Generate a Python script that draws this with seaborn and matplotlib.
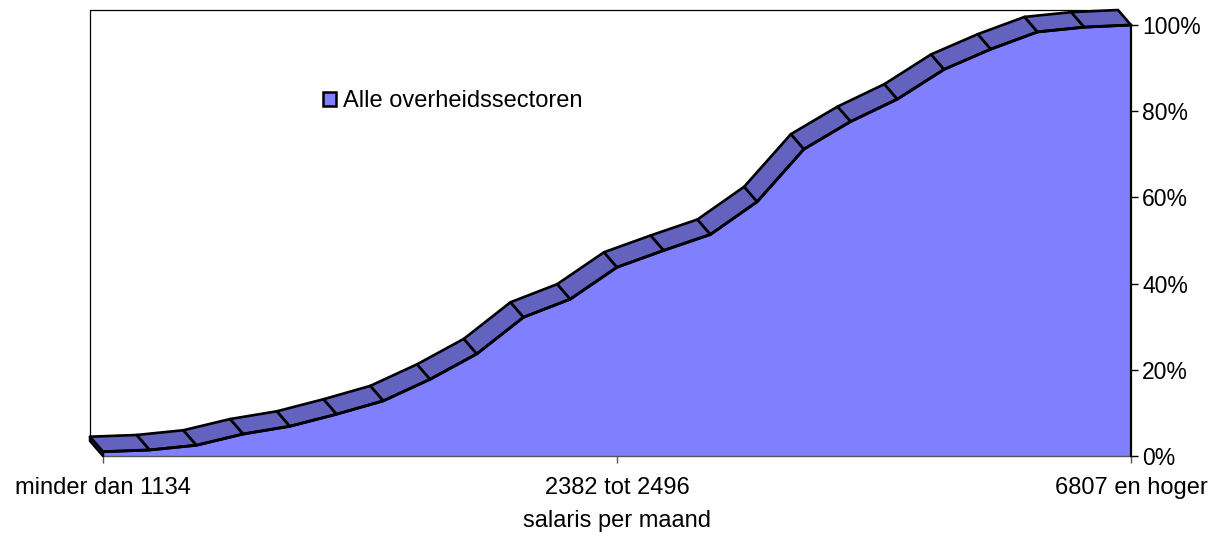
import numpy as np
import pandas as pd
import seaborn as sns
import matplotlib.pyplot as plt
from matplotlib.patches import Patch, Polygon
from matplotlib.ticker import PercentFormatter

# cumulative share of employees per salary class (23 classes)
classes = list(range(23))
cum_share = [1.0, 1.4, 2.5, 5.1, 6.9, 9.7, 12.8, 17.8, 23.7, 32.2, 36.4, 43.8,
             47.7, 51.4, 59.0, 71.2, 77.6, 82.8, 89.7, 94.4, 98.4, 99.5, 100.0]
tick_pos = [0, 11, 22]
tick_labels = ['minder dan 1134', '2382 tot 2496', '6807 en hoger']
series_name = 'Alle overheidssectoren'

FRONT = '#8080FF'
TOP = '#6363BF'


def main():
    sns.set_style('white')
    plt.rcParams['font.family'] = ['Liberation Sans', 'DejaVu Sans']
    plt.rcParams['text.color'] = 'black'
    plt.rcParams['xtick.color'] = 'black'
    plt.rcParams['ytick.color'] = 'black'
    plt.rcParams['axes.labelcolor'] = 'black'
    fs = 17

    df = pd.DataFrame({'klasse': classes, 'aandeel': cum_share})

    fig = plt.figure(figsize=(12.09, 5.36), dpi=100)
    ax = fig.add_axes([103 / 1209, 80 / 536, 1028 / 1209, 431 / 536])
    ax.set_xlim(0, 22)
    ax.set_ylim(0, 100)

    # depth offset of the 3D look, pixels -> data units
    wpx = ax.get_position().width * fig.get_figwidth() * fig.dpi
    hpx = ax.get_position().height * fig.get_figheight() * fig.dpi
    dx = -13 * 22 / wpx
    dy = 15 * 100 / hpx

    x = df['klasse'].to_numpy(dtype=float)
    y = df['aandeel'].to_numpy(dtype=float)

    # back wall frame
    ax.plot([dx, dx, 22 + dx], [dy, 100 + dy, 100 + dy], color='black', lw=0.9,
            clip_on=False, zorder=1)

    # front face
    ax.fill_between(x, 0, y, color=FRONT, lw=0, zorder=2)

    # left end face
    ax.add_patch(Polygon([[x[0], 0], [x[0], y[0]], [x[0] + dx, y[0] + dy], [x[0] + dx, dy]],
                         closed=True, facecolor=TOP, edgecolor='black', lw=1.8,
                         clip_on=False, zorder=3, joinstyle='round'))

    # top ribbon
    for i in range(len(x) - 1):
        pts = [[x[i], y[i]], [x[i + 1], y[i + 1]],
               [x[i + 1] + dx, y[i + 1] + dy], [x[i] + dx, y[i] + dy]]
        ax.add_patch(Polygon(pts, closed=True, facecolor=TOP, edgecolor='black',
                             lw=1.9, clip_on=False, zorder=4, joinstyle='round'))

    sns.lineplot(data=df, x='klasse', y='aandeel', color='black', lw=2.1,
                 ax=ax, zorder=5, clip_on=False)

    # axes styling
    for s in ['top', 'left']:
        ax.spines[s].set_visible(False)
    ax.spines['right'].set_color('black')
    ax.spines['right'].set_linewidth(1.6)
    ax.spines['right'].set_zorder(6)
    ax.spines['bottom'].set_color('#555555')
    ax.spines['bottom'].set_linewidth(1.0)

    ax.yaxis.tick_right()
    ax.set_yticks([0, 20, 40, 60, 80, 100])
    ax.yaxis.set_major_formatter(PercentFormatter(decimals=0))
    ax.set_xticks(tick_pos)
    ax.set_xticklabels(tick_labels)
    ax.tick_params(axis='y', which='major', direction='out', length=5, width=1,
                   color='black', labelsize=16.5, pad=3, right=True, left=False)
    ax.tick_params(axis='x', which='major', direction='out', length=5, width=1,
                   color='#555555', labelsize=fs, pad=10, bottom=True)
    ax.set_xlabel('salaris per maand', fontsize=fs, labelpad=8)
    ax.set_ylabel('')

    handle = Patch(facecolor=FRONT, edgecolor='black', lw=1.8)
    ax.legend([handle], [series_name], loc='center left', frameon=False,
              bbox_to_anchor=(323 / 1209, 1 - 101 / 536), bbox_transform=fig.transFigure,
              fontsize=fs, handlelength=0.55, handleheight=0.55, handletextpad=0.3,
              borderpad=0, borderaxespad=0)

    fig.savefig('out.png', dpi=100)


if __name__ == '__main__':
    main()
